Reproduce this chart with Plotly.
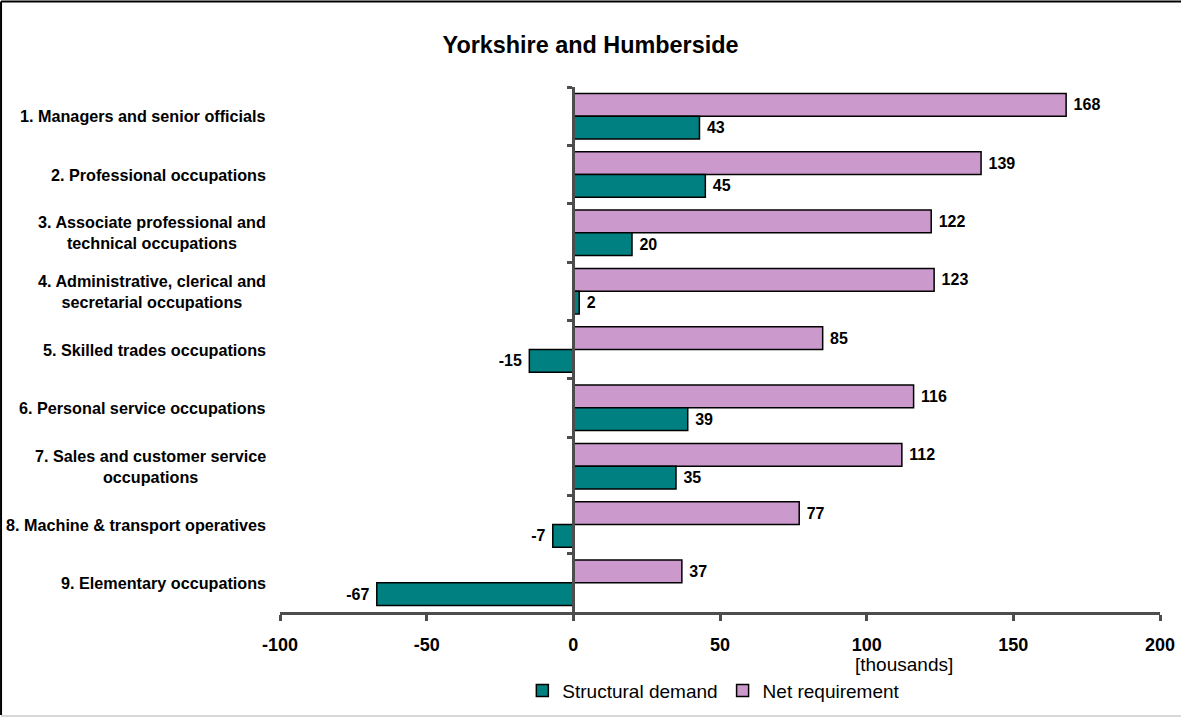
import plotly.graph_objects as go

# Occupation groups (top to bottom)
categories = [
    "1. Managers and senior officials",
    "2. Professional occupations",
    "3. Associate professional and<br>technical occupations",
    "4. Administrative, clerical and<br>secretarial occupations",
    "5. Skilled trades occupations",
    "6. Personal service occupations",
    "7. Sales and customer service<br>occupations",
    "8. Machine & transport operatives",
    "9. Elementary occupations",
]

# Values in thousands
net_requirement = [168, 139, 122, 123, 85, 116, 112, 77, 37]
structural_demand = [43, 45, 20, 2, -15, 39, 35, -7, -67]

x_ticks = [-100, -50, 0, 50, 100, 150, 200]

FONT = "Arial, Liberation Sans, sans-serif"
AXIS_GREY = "#4d4d4d"


def bar_labels(values):
    # pad the value labels away from the bar ends
    return [f" {v}" if v >= 0 else f"{v} " for v in values]


fig = go.Figure()

fig.add_trace(go.Bar(
    name="Net requirement",
    y=categories,
    x=net_requirement,
    orientation="h",
    marker=dict(color="#CC99CC", line=dict(color="black", width=1.5)),
    text=bar_labels(net_requirement),
    textposition="outside",
    textfont=dict(family=FONT, size=16, color="black", weight="bold"),
    cliponaxis=False,
    legendrank=2,
))

fig.add_trace(go.Bar(
    name="Structural demand",
    y=categories,
    x=structural_demand,
    orientation="h",
    marker=dict(color="#008080", line=dict(color="black", width=1.5)),
    text=bar_labels(structural_demand),
    textposition="outside",
    textfont=dict(family=FONT, size=16, color="black", weight="bold"),
    cliponaxis=False,
    legendrank=1,
))

# Category labels, centred line-by-line and right-aligned to the plot edge
annotations = [
    dict(text=f"<b>{c}</b>", x=-0.0136, xref="paper", y=c, yref="y",
         xanchor="right", yanchor="middle", align="center", showarrow=False,
         font=dict(family=FONT, size=16.2, color="black"))
    for c in categories
]
annotations.append(dict(
    text="[thousands]", x=0.651, xref="paper", y=-0.1, yref="paper",
    xanchor="left", yanchor="middle", showarrow=False,
    font=dict(family=FONT, size=19, color="black"),
))

# Frame around the chart
frame = dict(type="line", xref="paper", yref="paper", line=dict(color="black", width=2))
shapes = [
    dict(frame, x0=-0.317, x1=-0.317, y0=-0.196, y1=1.163),
    dict(frame, x0=-0.317, x1=1.03, y0=1.163, y1=1.163),
    dict(type="line", xref="paper", yref="paper", x0=-0.317, x1=1.03,
         y0=-0.198, y1=-0.198, line=dict(color="#d9d9d9", width=2)),
]

fig.update_layout(
    width=1181,
    height=717,
    margin=dict(l=280, r=21, t=87, b=105, autoexpand=False),
    paper_bgcolor="white",
    plot_bgcolor="white",
    barmode="group",
    bargap=0.22,
    bargroupgap=0,
    title=dict(text="<b>Yorkshire and Humberside</b>", x=0.5, xanchor="center",
               y=0.938, yanchor="middle",
               font=dict(family=FONT, size=23.4, color="black")),
    xaxis=dict(
        range=[-100, 200],
        tickvals=x_ticks,
        ticktext=[str(v) for v in x_ticks],
        showgrid=False,
        zeroline=False,
        showline=True,
        linecolor=AXIS_GREY,
        linewidth=3,
        ticks="outside",
        ticklen=6,
        tickwidth=3,
        tickcolor=AXIS_GREY,
        ticklabelstandoff=8,
        automargin=False,
        tickfont=dict(family=FONT, size=18, color="black", weight="bold"),
    ),
    yaxis=dict(
        categoryorder="array",
        categoryarray=categories,
        autorange="reversed",
        anchor="free",
        position=1 / 3,
        showgrid=False,
        zeroline=False,
        showline=True,
        linecolor=AXIS_GREY,
        linewidth=3,
        ticks="outside",
        tickson="boundaries",
        ticklen=5,
        tickwidth=3,
        tickcolor=AXIS_GREY,
        showticklabels=False,
        automargin=False,
    ),
    yaxis2=dict(
        overlaying="y",
        anchor="free",
        position=1 / 3,
        range=[8.5, -0.5],
        tickvals=[i - 0.5 for i in range(10)],
        showgrid=False,
        zeroline=False,
        showline=False,
        ticks="inside",
        ticklen=5,
        tickwidth=3,
        tickcolor=AXIS_GREY,
        showticklabels=False,
        automargin=False,
    ),
    legend=dict(
        orientation="h",
        x=0.493, xanchor="center",
        y=-0.15, yanchor="middle",
        font=dict(family=FONT, size=19, color="black"),
        itemwidth=30,
        tracegroupgap=0,
    ),
    annotations=annotations,
    shapes=shapes,
)

fig.write_html("out.html")
